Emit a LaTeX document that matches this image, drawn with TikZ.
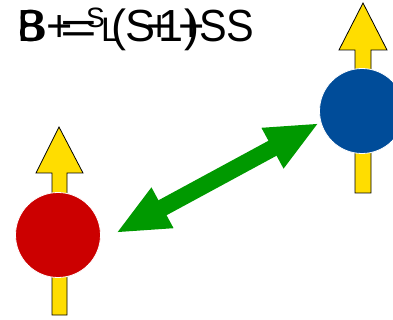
\documentclass[tikz,border=0pt]{standalone}
\usepackage{fontspec}
\setmainfont{Liberation Sans}
\usetikzlibrary{arrows.meta}
\definecolor{spinYellow}{RGB}{255,221,0}
\definecolor{spinRed}{RGB}{204,0,0}
\definecolor{spinBlue}{RGB}{0,76,153}
\definecolor{bondGreen}{RGB}{0,153,0}

\begin{document}
\begin{tikzpicture}[
        x=1pt, y=-1pt,
        spinArrow/.style={fill=spinYellow, draw=black, line width=0.8pt, line join=miter},
        atom/.style={circle, minimum size=85pt, inner sep=0pt, draw=white, line width=0.8pt},
        bond/.style={{Triangle[length=53pt,width=42pt]}-{Triangle[length=53pt,width=42pt]}, bondGreen, line width=17pt},
        formula/.style={font=\fontsize{45}{50}\selectfont, inner sep=0pt, anchor=base west},
        smallFormula/.style={font=\fontsize{28}{32}\selectfont, inner sep=0pt, anchor=base west}
    ]
        \useasboundingbox (0,0) rectangle (393,320);

        % Overlapping formula texts, top left
        \node[formula] (fB) at (17,42) {B};
        \node[formula] (f8) at (18,42) {8};
        \node[formula] (fPlus) at (46,42) {+};
        \node[formula, xscale=1.4] (fEq) at (60,44) {=};
        \node[smallFormula] (fSup) at (86,28) {S};
        \node[formula, font=\fontsize{34}{40}\selectfont] (fL) at (101,42) {L};
        \node[formula] (fOpen) at (111,42) {(};
        \node[formula] (fS) at (125,42) {S};
        \node[formula] (fPlusB) at (146,42) {+};
        \node[formula] (fOne) at (158,42) {1};
        \node[formula] (fClose) at (184,42) {)};
        \node[formula] (fBar) at (178,42) {+};
        \node[formula, xscale=0.92] (fSS) at (199,42) {SS};

        % Spin arrows
        \draw[spinArrow] (52,315) -- (52,173) -- (36,173) -- (59,127) -- (83,173) -- (67,173) -- (67,315) -- cycle;
        \draw[spinArrow] (355,193) -- (355,50) -- (339,50) -- (363,3) -- (387,50) -- (371,50) -- (371,193) -- cycle;

        % Atoms
        \node[atom, fill=spinRed] (red) at (58,235) {};
        \node[atom, fill=spinBlue] (blue) at (362,111) {};

        % Exchange coupling between the two spins
        \draw[bond] ([xshift=15pt,yshift=2pt]red.east) -- ([yshift=-12pt]blue.west);

    \end{tikzpicture}
\end{document}
